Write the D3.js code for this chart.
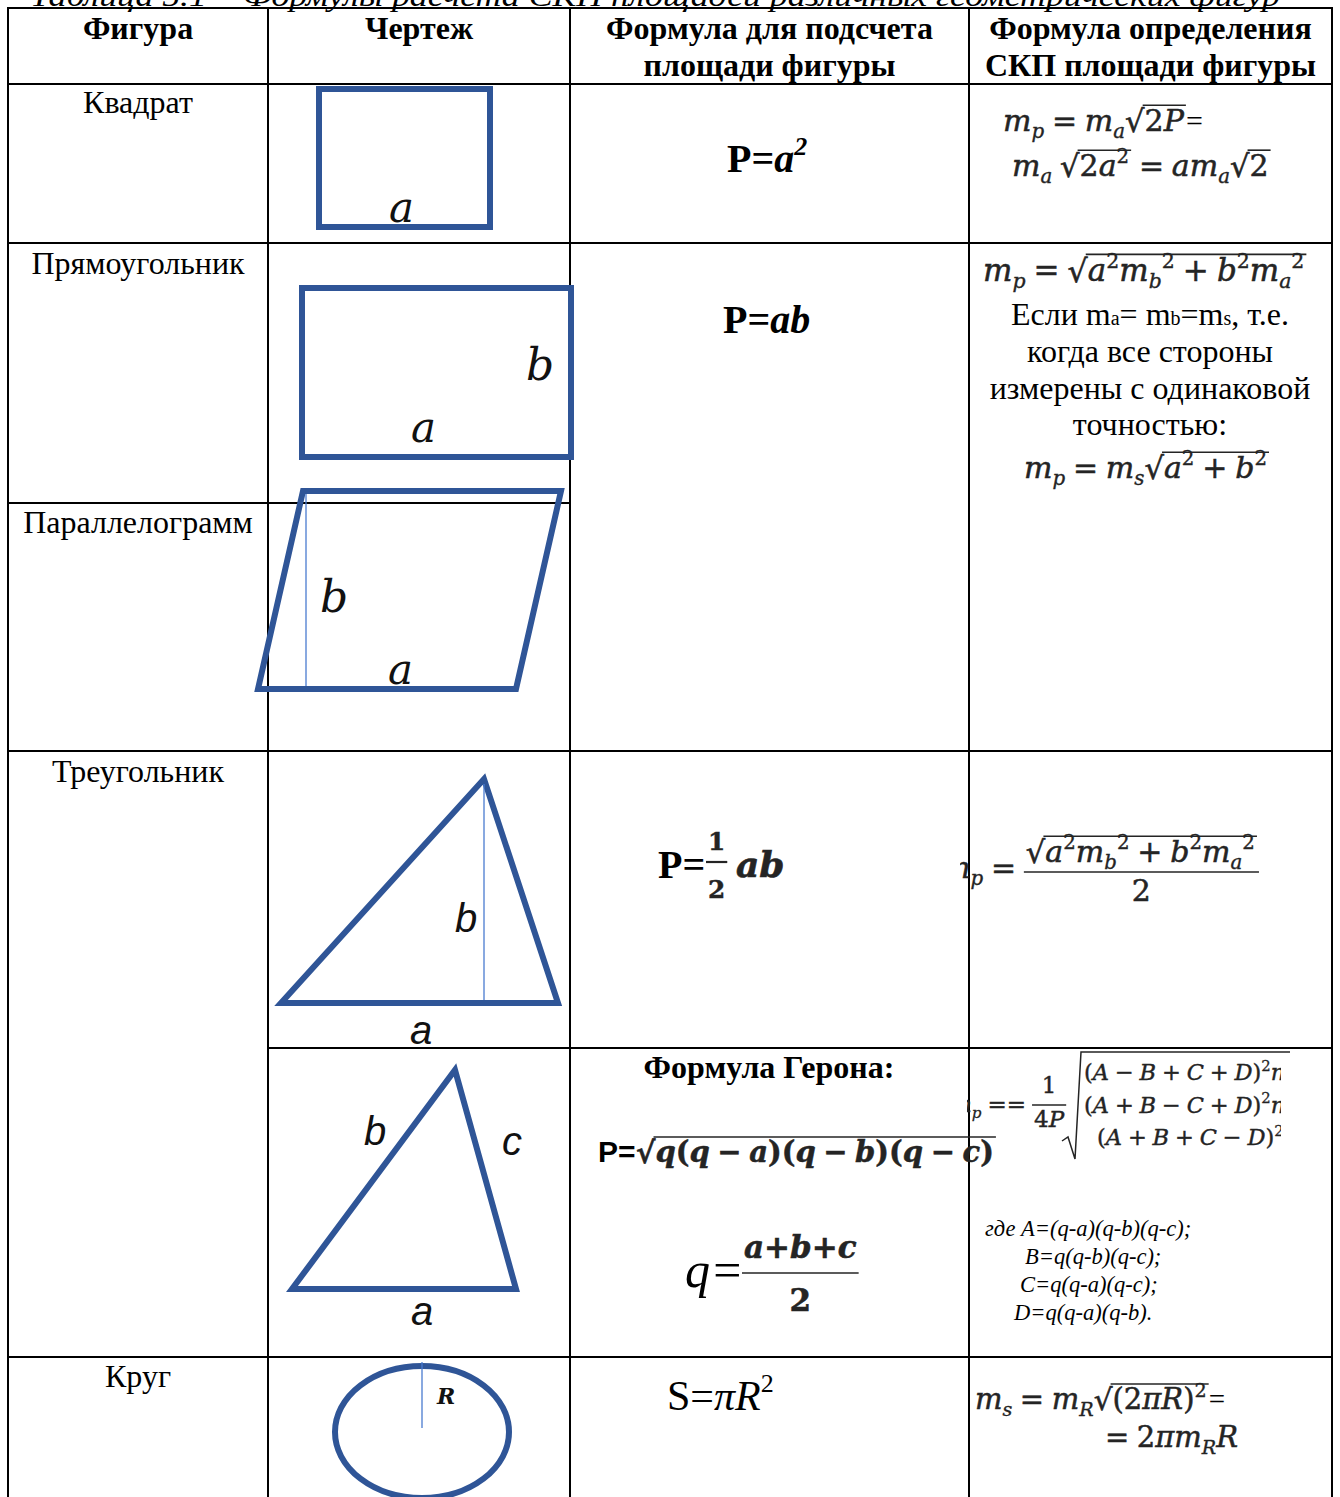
<!DOCTYPE html>
<html lang="ru">
<head>
<meta charset="utf-8">
<script src="https://d3js.org/d3.v7.min.js"></script>
<style>
  body { margin: 0; background: #fff; }
  svg { display: block; }
</style>
</head>
<body>
<script>
// ---- table content ----
const caption = "Таблица 5.1 – Формулы расчета СКП площадей различных геометрических фигур";
const headers = [["Фигура"], ["Чертеж"], ["Формула для подсчета", "площади фигуры"], ["Формула определения", "СКП площади фигуры"]];
const figures = ["Квадрат", "Прямоугольник", "Параллелограмм", "Треугольник", "Круг"];
const noteLines = ["когда все стороны", "измерены с одинаковой", "точностью:"];
const heronTitle = "Формула Герона:";
const heronDefs = ["где A=(q-a)(q-b)(q-c);", "B=q(q-b)(q-c);", "C=q(q-a)(q-c);", "D=q(q-a)(q-b)."];
const heronRows = ["(A − B + C + D)^2n", "(A + B − C + D)^2n", "(A + B + C − D)^2"];

// ---- layout ----
const W = 1340, H = 1497;
const colEdges = [8, 268, 570, 969, 1332];
const figureBaselines = [113, 274, 533, 782, 1387];
const hLines = [[8, 0, 4], [84, 0, 4], [243, 0, 4], [503, 0, 2], [751, 0, 4], [1048, 1, 4], [1357, 0, 4]];

const INK = "#000", BLUE = "#2f5597", THIN = "#4a7bd0", MC = "#242424";
const SERIF = "'Liberation Serif', 'Times New Roman', serif";
const SANS = "'Liberation Sans', Arial, sans-serif";
const MATHF = "'DejaVu Serif', serif";

const svg = d3.select("body").append("svg").attr("width", W).attr("height", H);
const defs = svg.append("defs");

// caption, cut off at the top edge as in the source scan
svg.append("text").attr("x", 30).attr("y", 6)
  .attr("font-family", SERIF).attr("font-style", "italic").attr("font-size", 30)
  .attr("textLength", 1250).attr("lengthAdjust", "spacingAndGlyphs")
  .text(caption);

// ---- grid ----
const grid = svg.append("g").attr("stroke", INK).attr("stroke-width", 2);
hLines.forEach(([y, c0, c1]) => grid.append("line")
  .attr("x1", colEdges[c0] - 1).attr("x2", colEdges[c1] + 1).attr("y1", y).attr("y2", y));
colEdges.forEach(x => grid.append("line").attr("x1", x).attr("x2", x).attr("y1", 8).attr("y2", H));

// headers
headers.forEach((lines, i) => {
  const cx = (colEdges[i] + colEdges[i + 1]) / 2;
  lines.forEach((t, j) => svg.append("text").attr("x", cx).attr("y", 39 + j * 37)
    .attr("text-anchor", "middle").attr("font-family", SERIF).attr("font-weight", "bold")
    .attr("font-size", 32).text(t));
});

// figure names
figures.forEach((t, i) => svg.append("text").attr("x", 138).attr("y", figureBaselines[i])
  .attr("text-anchor", "middle").attr("font-family", SERIF).attr("font-size", 32).text(t));

// ---- drawings ----
const draw = svg.append("g").attr("fill", "none").attr("stroke", BLUE).attr("stroke-width", 6)
  .attr("stroke-linejoin", "miter");
const poly = pts => "M" + pts.map(p => p.join(",")).join("L") + "Z";
draw.append("rect").attr("x", 319).attr("y", 89).attr("width", 171).attr("height", 138);
draw.append("rect").attr("x", 302).attr("y", 288).attr("width", 269).attr("height", 169);
draw.append("path").attr("d", poly([[258, 689], [516, 689], [561, 491], [303, 491]]));
draw.append("path").attr("d", poly([[281, 1003], [558, 1003], [484, 779]]));
draw.append("path").attr("d", poly([[292, 1289], [516, 1289], [455, 1070]]));
draw.append("ellipse").attr("cx", 422).attr("cy", 1432).attr("rx", 87).attr("ry", 66);

const thin = svg.append("g").attr("stroke", THIN).attr("stroke-width", 1.3);
thin.append("line").attr("x1", 306).attr("x2", 306).attr("y1", 494).attr("y2", 686);
thin.append("line").attr("x1", 484).attr("x2", 484).attr("y1", 784).attr("y2", 1000);
thin.append("line").attr("x1", 422).attr("x2", 422).attr("y1", 1362).attr("y2", 1428);

function label(x, y, t, font, size, weight) {
  svg.append("text").attr("x", x).attr("y", y).attr("font-family", font).attr("font-style", "italic")
    .attr("font-weight", weight || "normal").attr("font-size", size).attr("fill", "#111").text(t);
}
label(389, 222, "a", MATHF, 42);
label(526, 380, "b", MATHF, 44);
label(411, 442, "a", MATHF, 42);
label(320, 612, "b", MATHF, 44);
label(388, 684, "a", MATHF, 42);
label(455, 932, "b", SANS, 40);
label(410, 1044, "a", SANS, 40);
label(364, 1145, "b", SANS, 40);
label(502, 1155, "c", SANS, 40);
label(411, 1325, "a", SANS, 40);
label(437, 1404, "R", MATHF, 22, "bold");

// ---- small formula layout engine ----
function seq(s) {
  const out = [];
  for (let i = 0; i < s.length; i++) {
    const c = s[i];
    if (c === "_" || c === "^") { out.push({ t: s[i + 1], [c === "_" ? "sub" : "sup"]: true }); i++; }
    else out.push({ t: c });
  }
  return out;
}
function glyph(g, x, y, t, size, st, italic) {
  const fill = st.fill || MC;
  const n = g.append("text").attr("x", x).attr("y", y)
    .attr("font-family", st.f || MATHF).attr("font-size", size)
    .attr("font-style", italic ? "italic" : "normal")
    .attr("font-weight", st.b ? "bold" : "normal").attr("fill", fill)
    .attr("stroke", st.f ? "none" : fill).attr("stroke-width", size * 0.018).text(t);
  return n.node().getComputedTextLength();
}
function layout(g, x, y, list, size, st) {
  list.forEach(tok => {
    if (typeof tok === "string") tok = { t: tok };
    if (tok.sqrt) {
      const w = glyph(g, x, y + size * 0.04, "√", size * 1.02, st, false);
      const x1 = layout(g, x + w, y, tok.sqrt, size, st);
      g.append("line").attr("x1", x + w * 0.9).attr("x2", x1 + 2)
        .attr("y1", y - size * 0.86).attr("y2", y - size * 0.86)
        .attr("stroke", st.fill || MC).attr("stroke-width", Math.max(1.3, size * 0.055));
      x = x1 + 2;
    } else if (tok.frac) {
      const s = size * (tok.s || 1);
      const gn = g.append("g"), gd = g.append("g");
      const wn = layout(gn, 0, 0, tok.frac[0], s, st);
      const wd = layout(gd, 0, 0, tok.frac[1], s, st);
      const w = Math.max(wn, wd) + 4;
      gn.attr("transform", `translate(${x + (w - wn) / 2},${y + tok.nd})`);
      gd.attr("transform", `translate(${x + (w - wd) / 2},${y + tok.dd})`);
      g.append("line").attr("x1", x).attr("x2", x + w).attr("y1", y + tok.bar).attr("y2", y + tok.bar)
        .attr("stroke", st.fill || MC).attr("stroke-width", Math.max(1.3, size * 0.055));
      x += w + 2;
    } else if (tok.t === " ") {
      x += size * 0.26;
    } else {
      const sty = Object.assign({}, st, tok.st || {});
      const italic = tok.it !== undefined ? tok.it : /[A-Za-zπ]/.test(tok.t);
      if (tok.sub) x += glyph(g, x, y + size * 0.24, tok.t, size * 0.66, sty, italic);
      else if (tok.sup) x += glyph(g, x, y - size * 0.42, tok.t, size * 0.66, sty, italic);
      else x += glyph(g, x, y, tok.t, size, sty, italic);
    }
  });
  return x;
}
function formula(x, y, list, size, st, clip) {
  const g = svg.append("g");
  if (clip) {
    const id = "clip" + Math.round(x) + "_" + Math.round(y);
    defs.append("clipPath").attr("id", id).append("rect")
      .attr("x", clip[0]).attr("y", y - 200).attr("width", clip[1] - clip[0]).attr("height", 400);
    g.attr("clip-path", `url(#${id})`);
  }
  return layout(g, x, y, list, size, st || {});
}

// ---- column 3: area formulas ----
function plain(x, y, parts, size, anchor) {
  const t = svg.append("text").attr("x", x).attr("y", y).attr("font-family", SERIF)
    .attr("font-size", size).attr("text-anchor", anchor || "start");
  parts.forEach(p => t.append("tspan").attr("font-style", p.i ? "italic" : "normal")
    .attr("font-weight", p.b ? "bold" : "normal")
    .attr("font-size", p.s || size).attr("dy", p.dy || 0).text(p.t));
  return t;
}
plain(727, 172, [{ t: "P=", b: 1 }, { t: "a", b: 1, i: 1 }, { t: "2", b: 1, i: 1, s: 26, dy: -17 }], 40);
plain(723, 333, [{ t: "P=", b: 1 }, { t: "ab", b: 1, i: 1 }], 40);
plain(658, 878, [{ t: "P=", b: 1 }], 40);
formula(706, 878, [{ frac: [seq("1"), seq("2")], s: 0.62, nd: -28, bar: -16, dd: 20 }], 40, { b: 1 });
formula(736, 877, seq("ab"), 36, { b: 1 });
plain(769, 1078, [{ t: heronTitle, b: 1 }], 32, "middle");
svg.append("text").attr("x", 598).attr("y", 1162).attr("font-family", SANS).attr("font-weight", "bold")
  .attr("font-size", 30).text("P=");
formula(636, 1162, [{ sqrt: seq("q(q − a)(q − b)(q − c)") }], 29, { b: 1 });
plain(685, 1287, [{ t: "q=", i: 1 }], 50);
formula(742, 1287, [{ frac: [seq("a+b+c"), seq("2")], nd: -29, bar: -14, dd: 24 }], 31, { b: 1 });
plain(667, 1410, [{ t: "S=" }, { t: "πR", i: 1 }, { t: "2", s: 26, dy: -18 }], 42);

// ---- column 4: error formulas ----
formula(1003, 131, [...seq("m_p = m_a"), { sqrt: seq("2P") }, { t: "=", st: { f: SERIF, fill: "#000" }, it: false }], 30);
formula(1012, 176, [...seq("m_a "), { sqrt: seq("2a^2") }, ...seq(" = am_a"), { sqrt: seq("2") }], 30);

formula(983, 281, [...seq("m_p = "), { sqrt: seq("a^2m_b^2 + b^2m_a^2") }], 31);
plain(1150, 325, [{ t: "Если m" }, { t: "a", s: 20 }, { t: "= m" }, { t: "b", s: 20 }, { t: "=m" }, { t: "s", s: 20 }, { t: ", т.е." }], 32, "middle");
noteLines.forEach((t, i) => plain(1150, 362 + i * 36.5, [{ t }], 32, "middle"));
formula(1024, 478, [...seq("m_p = m_s"), { sqrt: seq("a^2 + b^2") }], 30);

formula(942, 878, [...seq("m_p = "), { frac: [[{ sqrt: seq("a^2m_b^2 + b^2m_a^2") }], seq("2")], nd: -16, bar: -6, dd: 23 }], 30, {}, [960, 1332]);

formula(950, 1112, [...seq("m_p == "), { frac: [seq("1"), seq("4P")], nd: -19, bar: -7, dd: 15 }], 23, {}, [967, 1332]);
svg.append("path").attr("d", "M1062,1141L1068,1137L1075,1159L1081,1052L1290,1052")
  .attr("fill", "none").attr("stroke", MC).attr("stroke-width", 1.5);
heronRows.forEach((r, i) => formula(i === 2 ? 1097 : 1084, 1080 + i * 32.5, seq(r), 22.5, {}, [967, 1281]));
heronDefs.forEach((t, i) => plain([985, 1025, 1020, 1014][i], 1236 + i * 28, [{ t, i: 1 }], 22.5));

formula(975, 1409, [...seq("m_s = m_R"), { sqrt: seq("(2πR)^2") }, { t: "=", st: { f: SERIF, fill: "#000" }, it: false }], 29);
formula(1105, 1447, seq("= 2πm_RR"), 29);
</script>
</body>
</html>
